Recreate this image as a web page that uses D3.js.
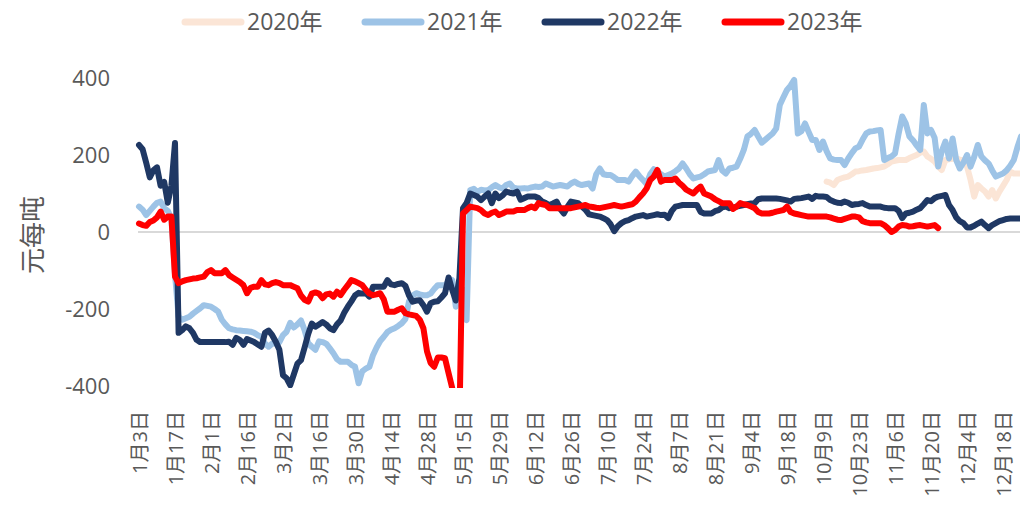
<!DOCTYPE html>
<html>
<head>
<meta charset="utf-8">
<script src="https://cdn.jsdelivr.net/npm/d3@7"></script>
<style>
  body { margin: 0; background: #fff; }
  text { font-family: "Open Sans", "Noto Sans CJK SC", sans-serif; fill: #595959; }
</style>
</head>
<body>
<div class="graph"></div>
<script>
// 价差季节性图：按交易日序号排列，每10个交易日一个日期标签

var xLabels = ["1月3日", "1月17日", "2月1日", "2月16日", "3月2日", "3月16日", "3月30日", "4月14日",
    "4月28日", "5月15日", "5月29日", "6月12日", "6月26日", "7月10日", "7月24日", "8月7日",
    "8月21日", "9月4日", "9月18日", "10月9日", "10月23日", "11月6日", "11月20日", "12月4日", "12月18日"];
var yTicks = [-400, -200, 0, 200, 400];
var seriesNames = ["2020年", "2021年", "2022年", "2023年"];
var seriesColors = ["#FBE5D6", "#9DC3E6", "#1F3864", "#FF0000"];

// 2020年只有年末的数据，从第191个交易日开始
var start2020 = 191;
var values2020 = [
    131, 128, 122, 135, 139, 142, 144, 150, 157, 158,
    160, 161, 163, 165, 166, 168, 170, 176, 183, 185,
    187, 187, 187, 192, 196, 200, 206, 209, 196, 190,
    183, 170, 161, 187, 189, 190, 191, 188, 187, 170,
    135, 92, 122, 113, 105, 92, 109, 87, 105, 120,
    135, 157, 152, 152, 152];

var values2021 = [
    66, 58, 44, 55, 66, 76, 79, 62, 55, 35,
    -110, -220, -228, -224, -220, -212, -205, -198, -190, -192,
    -194, -200, -207, -228, -240, -250, -253, -255, -256, -257,
    -258, -259, -262, -268, -272, -290, -298, -290, -289, -286,
    -268, -259, -236, -248, -240, -230, -255, -289, -298, -306,
    -284, -286, -290, -302, -315, -330, -337, -337, -337, -345,
    -350, -393, -362, -355, -350, -320, -300, -283, -272, -260,
    -254, -250, -244, -237, -226, -180, -165, -159, -162, -164,
    -164, -160, -148, -138, -138, -138, -130, -125, -194, -145,
    -150, -229, 109, 112, 104, 110, 108, 109, 116, 122,
    116, 113, 122, 126, 115, 113, 113, 114, 113, 116,
    118, 117, 118, 126, 122, 118, 120, 122, 120, 118,
    126, 131, 125, 122, 124, 126, 113, 150, 165, 150,
    148, 148, 142, 135, 135, 135, 131, 145, 157, 145,
    135, 125, 150, 163, 157, 150, 144, 148, 152, 158,
    165, 178, 165, 150, 139, 142, 144, 150, 157, 159,
    161, 187, 160, 152, 165, 167, 170, 190, 213, 248,
    255, 265, 248, 232, 240, 248, 256, 269, 330, 350,
    369, 380, 395, 256, 262, 282, 260, 239, 239, 213,
    235, 210, 191, 188, 187, 187, 174, 191, 205, 217,
    222, 240, 256, 261, 262, 264, 265, 187, 192, 196,
    204, 255, 300, 282, 248, 238, 225, 213, 330, 256,
    265, 245, 170, 210, 235, 191, 243, 187, 165, 180,
    200, 170, 195, 226, 196, 186, 178, 160, 144, 148,
    152, 160, 172, 187, 220, 248];

var values2022 = [
    226, 215, 180, 142, 160, 168, 120, 130, 76, 120,
    231, -262, -255, -245, -250, -262, -280, -286, -286, -286,
    -286, -286, -286, -286, -286, -285, -293, -275, -280, -293,
    -278, -282, -286, -292, -298, -262, -256, -268, -285, -306,
    -372, -380, -398, -370, -342, -333, -300, -265, -238, -246,
    -240, -234, -240, -250, -255, -240, -230, -210, -194, -180,
    -165, -158, -160, -158, -168, -142, -142, -142, -142, -125,
    -136, -138, -135, -133, -140, -165, -181, -178, -177, -190,
    -207, -185, -181, -180, -170, -159, -118, -150, -178, -120,
    62, 75, 100, 96, 92, 83, 92, 100, 75, 100,
    88, 95, 105, 102, 100, 105, 84, 88, 92, 92,
    92, 88, 79, 75, 70, 74, 79, 60, 48, 65,
    79, 77, 75, 66, 58, 46, 44, 42, 40, 36,
    31, 20, 2, 15, 23, 28, 31, 36, 40, 42,
    44, 40, 42, 44, 46, 44, 45, 36, 55, 66,
    68, 70, 70, 70, 70, 70, 52, 48, 48, 48,
    54, 57, 64, 66, 62, 63, 66, 68, 70, 72,
    74, 75, 85, 87, 87, 87, 87, 87, 86, 84,
    82, 79, 86, 87, 88, 90, 92, 86, 94, 92,
    92, 91, 83, 79, 76, 75, 79, 76, 70, 72,
    73, 75, 70, 66, 66, 66, 66, 63, 62, 62,
    62, 55, 36, 48, 50, 53, 58, 62, 72, 83,
    80, 88, 92, 94, 96, 70, 57, 38, 28, 23,
    12, 12, 16, 22, 27, 18, 10, 18, 23, 28,
    31, 34, 35, 35, 35, 35];

var values2023 = [
    22, 18, 16, 26, 30, 38, 53, 32, 40, 40,
    -116, -133, -128, -125, -123, -121, -120, -118, -116, -104,
    -99, -107, -107, -107, -99, -112, -118, -124, -130, -138,
    -159, -145, -142, -142, -125, -136, -138, -133, -130, -133,
    -138, -138, -138, -142, -146, -165, -176, -181, -160, -157,
    -160, -172, -162, -160, -168, -155, -164, -150, -138, -125,
    -128, -133, -138, -150, -160, -164, -162, -159, -175, -207,
    -207, -207, -202, -198, -211, -214, -216, -218, -228, -250,
    -310, -340, -350, -326, -326, -328, -367, -405, -460, -500,
    48, 57, 66, 64, 62, 57, 48, 44, 50, 53,
    44, 48, 53, 53, 53, 57, 57, 57, 62, 66,
    62, 75, 72, 70, 62, 62, 62, 62, 62, 62,
    62, 64, 66, 68, 70, 66, 65, 63, 62, 64,
    66, 68, 70, 68, 66, 68, 70, 72, 79, 90,
    100, 113, 135, 144, 161, 131, 135, 135, 135, 139,
    128, 120, 110, 105, 100, 110, 118, 100, 96, 92,
    85, 80, 75, 75, 75, 60, 66, 75, 72, 70,
    66, 62, 52, 48, 48, 48, 50, 53, 55, 57,
    66, 52, 48, 46, 44, 42, 40, 40, 40, 40,
    40, 40, 38, 35, 32, 31, 34, 37, 40, 40,
    38, 28, 25, 23, 23, 23, 23, 18, 10, 0,
    5, 14, 18, 17, 14, 15, 17, 18, 16, 14,
    16, 18, 10];

var width = 1020;
var height = 511;

var series = [
    { name: seriesNames[0], color: seriesColors[0], start: start2020, values: values2020 },
    { name: seriesNames[1], color: seriesColors[1], start: 0, values: values2021 },
    { name: seriesNames[2], color: seriesColors[2], start: 0, values: values2022 },
    { name: seriesNames[3], color: seriesColors[3], start: 0, values: values2023 }
];

var svg = d3.select('.graph').append('svg')
    .attr('width', width)
    .attr('height', height)
    .attr('viewBox', [0, 0, width, height]);

// x: trading day index, y: spread
var xScale = d3.scaleLinear().domain([0, 245]).range([139, 1021]);
var yScale = d3.scaleLinear().domain([-400, 400]).range([386, 78]);

// clip lines at the -400 floor like the original
svg.append('clipPath').attr('id', 'plot-clip')
    .append('rect')
    .attr('x', 0)
    .attr('y', 0)
    .attr('width', width)
    .attr('height', yScale(-400) + 2);

// zero line
svg.append('line')
    .attr('x1', 138)
    .attr('x2', width)
    .attr('y1', yScale(0))
    .attr('y2', yScale(0))
    .style('stroke', '#D9D9D9')
    .attr('stroke-width', 2);

// y axis (plain hyphen for negatives, like Excel)
var yAxis = svg.append('g')
    .attr('transform', 'translate(120,0)')
    .call(d3.axisLeft(yScale)
        .tickValues(yTicks)
        .tickFormat(function(d) { return String(d); })
        .tickSize(0)
        .tickPadding(10));
yAxis.select('.domain').remove();
yAxis.selectAll('text')
    .attr('font-size', '22px')
    .style('font-family', '"Open Sans", sans-serif')
    .attr('fill', '#595959');

// y title
svg.append('text')
    .text('元每吨')
    .attr('transform', 'translate(33,235) rotate(-90)')
    .attr('text-anchor', 'middle')
    .attr('dy', '0.35em')
    .attr('font-size', '26px');

// x axis, labels every 10 trading days, rotated
var xAxis = svg.append('g')
    .attr('transform', 'translate(0,411)')
    .call(d3.axisBottom(xScale)
        .tickValues(d3.range(0, xLabels.length * 10, 10))
        .tickFormat(function(d, i) { return xLabels[i]; })
        .tickSize(0));
xAxis.select('.domain').remove();
xAxis.selectAll('text')
    .attr('transform', 'rotate(-90)')
    .attr('text-anchor', 'end')
    .attr('x', 0)
    .attr('y', 0)
    .attr('dy', '0.35em')
    .attr('font-size', '20px')
    .style('font-family', '"Open Sans", "Noto Sans CJK SC", sans-serif')
    .attr('fill', '#595959');

// lines
var line = d3.line()
    .defined(function(d) { return d.v != null; })
    .x(function(d) { return xScale(d.i); })
    .y(function(d) { return yScale(d.v); });

var lines = svg.append('g').attr('clip-path', 'url(#plot-clip)');
lines.selectAll('path')
    .data(series)
    .enter()
    .append('path')
    .attr('d', function(s) {
        return line(s.values.map(function(v, k) { return { i: s.start + k, v: v }; }));
    })
    .attr('fill', 'none')
    .style('stroke', function(s) { return s.color; })
    .attr('stroke-width', 6)
    .attr('stroke-linejoin', 'round')
    .attr('stroke-linecap', 'round');

// legend
var legend = svg.append('g').selectAll('g')
    .data(series)
    .enter()
    .append('g')
    .attr('transform', function(d, i) { return 'translate(' + (182 + i * 180) + ',22)'; });
legend.append('line')
    .attr('x1', 3)
    .attr('x2', 59)
    .style('stroke', function(d) { return d.color; })
    .attr('stroke-width', 7)
    .attr('stroke-linecap', 'round');
legend.append('text')
    .text(function(d) { return d.name; })
    .attr('x', 65)
    .attr('dy', '0.35em')
    .attr('font-size', '23px');
</script>
</body>
</html>
